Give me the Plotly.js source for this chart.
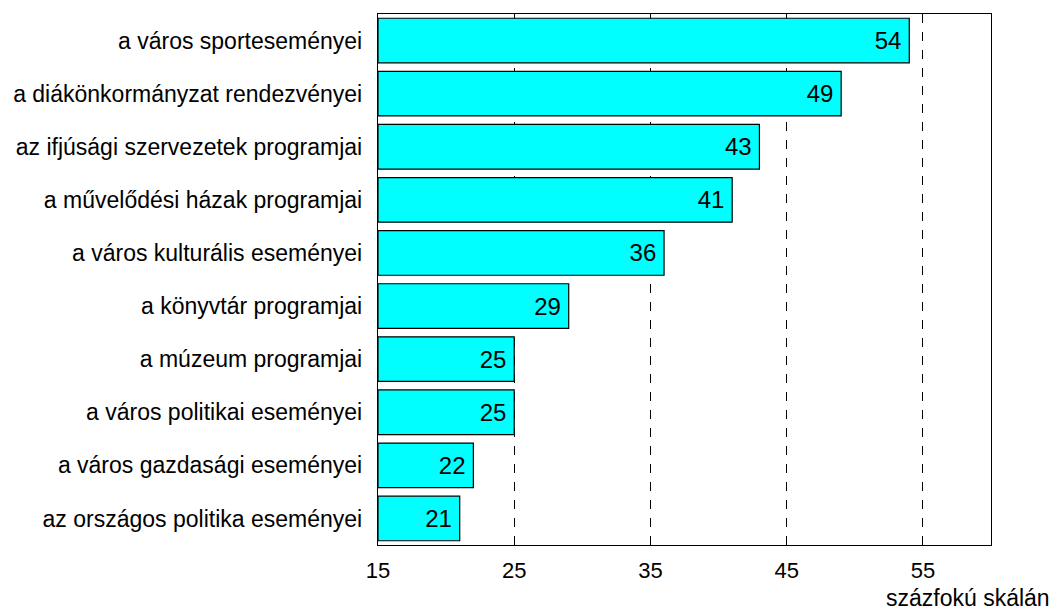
<!DOCTYPE html>
<html><head><meta charset="utf-8">
<script src="https://cdn.plot.ly/plotly-3.0.1.min.js"></script>
<style>body{margin:0}#c{width:1057px;height:613px}</style>
</head><body><div id="c"></div>
<script>
const categories = ["a város sporteseményei","a diákönkormányzat rendezvényei","az ifjúsági szervezetek programjai","a művelődési házak programjai","a város kulturális eseményei","a könyvtár programjai","a múzeum programjai","a város politikai eseményei","a város gazdasági eseményei","az országos politika eseményei"];
const values = [54,49,43,41,36,29,25,25,22,21];
const tickVals = [15,25,35,45,55];
const axisNote = "százfokú skálán";
const base = 15;

const trace = {
  type:'bar', orientation:'h',
  y: categories, x: values.map(v=>v-base), base: base,
  text: values.map(v=>String(v)+'\u2009'), textposition:'inside', insidetextanchor:'end',
  textfont:{family:'Liberation Sans, Arial', size:24, color:'#000'},
  marker:{color:'#00FFFF', line:{color:'#000', width:1.2}},
  hoverinfo:'none', cliponaxis:false
};
const layout = {
  width:1057, height:613,
  margin:{l:378, r:66, t:14, b:68},
  paper_bgcolor:'#fff', plot_bgcolor:'#fff',
  bargap:0.16,
  showlegend:false,
  font:{family:'Liberation Sans, Arial', color:'#000'},
  xaxis:{range:[15,60], tickvals:tickVals, ticktext:tickVals.map(String),
    showgrid:true, gridcolor:'#000', gridwidth:1, griddash:'dash',
    zeroline:false, showline:true, linecolor:'#000', linewidth:1.2, mirror:true,
    ticks:'', tickfont:{size:22, color:'#000'}, ticklabelstandoff:5},
  yaxis:{autorange:'reversed', showgrid:false, zeroline:false, showline:true,
    linecolor:'#000', linewidth:1.2, mirror:true, ticks:'',
    tickfont:{size:23, color:'#000'}, ticklabelstandoff:10},
  annotations:[{text:axisNote, xref:'paper', yref:'paper', x:(1052-378)/613, y:0, yshift:-38,
    xanchor:'right', yanchor:'top', showarrow:false, font:{size:23, color:'#000'}}]
};
Plotly.newPlot('c',[trace],layout,{staticPlot:true});
</script></body></html>
